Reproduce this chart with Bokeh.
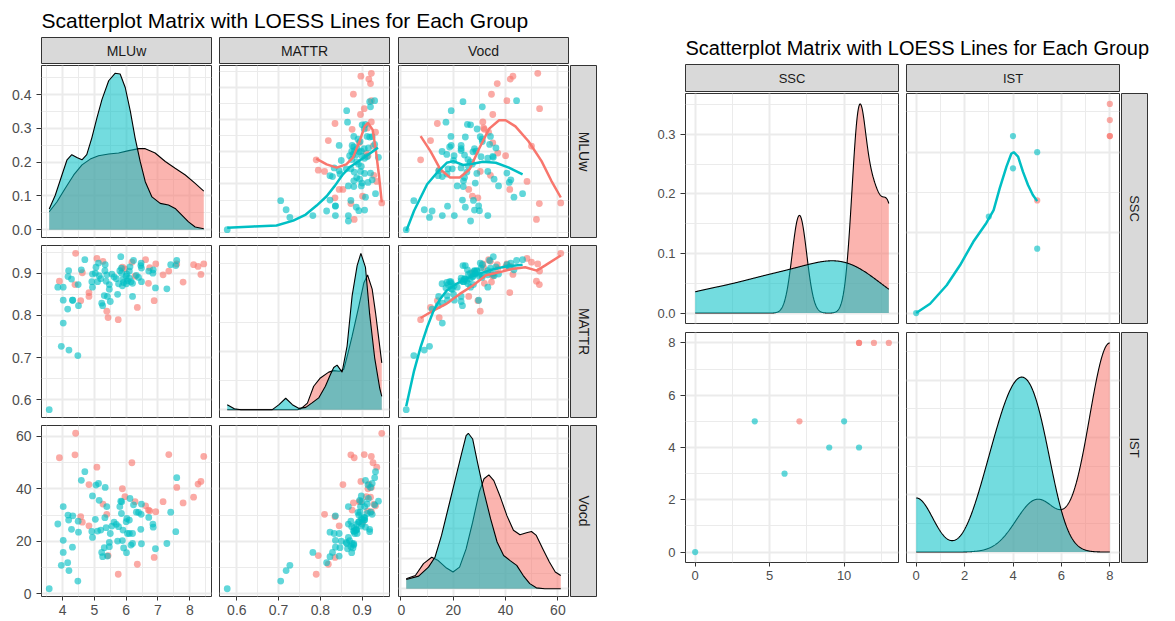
import numpy as np
from bokeh.plotting import figure
from bokeh.layouts import row, column
from bokeh.models import Spacer, FixedTicker, PrintfTickFormatter, Range1d
from bokeh.core.properties import value
from bokeh.embed import file_html
from bokeh.resources import INLINE

RED = "#F8766D"
TEAL = "#00BFC4"
FONT = "Liberation Sans"
TITLE = "Scatterplot Matrix with LOESS Lines for Each Group"

# ---------------- left matrix: MLUw / MATTR / Vocd ----------------
left_names = ["MLUw", "MATTR", "Vocd"]

red_mluw = [3.90, 4.39, 4.41, 4.57, 4.62, 4.83, 4.83, 5.08, 5.27, 5.39,
            5.43, 5.75, 5.88, 5.96, 6.18, 6.28, 6.35, 6.61, 6.70, 6.74,
            6.88, 6.93, 7.16, 7.34, 7.59, 7.79, 8.12, 8.26, 8.35, 8.44]
red_mattr = [0.881, 0.873, 0.947, 0.835, 0.901, 0.854, 0.845, 0.935, 0.928, 0.810,
             0.795, 0.790, 0.914, 0.910, 0.926, 0.893, 0.819, 0.932, 0.876, 0.913,
             0.835, 0.922, 0.896, 0.905, 0.922, 0.879, 0.920, 0.916, 0.897, 0.922]
red_vocd = [51.8, 52.9, 61.1, 29.4, 27.3, 41.6, 25.9, 48.2, 34.2, 30.3,
            14.6, 7.5, 40.0, 37.0, 49.9, 35.1, 11.3, 33.5, 31.9, 31.6,
            13.9, 31.3, 35.1, 53.0, 40.5, 34.6, 36.8, 41.8, 42.8, 52.3]

teal_mluw = [3.58, 3.85, 3.96, 4.02, 4.02, 4.02, 4.16, 4.20, 4.17, 4.19,
             4.28, 4.32, 4.31, 4.49, 4.50, 4.48, 4.59, 4.70, 4.94, 4.94,
             4.92, 5.03, 5.05, 5.13, 5.15, 5.10, 5.20, 5.23, 5.26, 5.31,
             5.33, 5.34, 5.39, 5.37, 5.41, 5.47, 5.47, 5.50, 5.55, 5.62,
             5.69, 5.73, 5.76, 5.80, 5.83, 5.85, 5.86, 5.90, 5.88, 5.92,
             6.00, 6.02, 6.01, 6.04, 6.10, 6.10, 6.12, 6.15, 6.20, 6.20,
             6.23, 6.32, 6.39, 6.47, 6.46, 6.48, 6.48, 6.71, 6.84, 6.85,
             6.92, 7.28, 7.40, 7.56, 7.59]
teal_mattr = [0.577, 0.867, 0.727, 0.782, 0.867, 0.836, 0.815, 0.718, 0.892, 0.906,
              0.886, 0.836, 0.836, 0.873, 0.823, 0.705, 0.908, 0.932, 0.898, 0.867,
              0.880, 0.900, 0.914, 0.924, 0.894, 0.880, 0.887, 0.829, 0.823, 0.847,
              0.906, 0.920, 0.896, 0.881, 0.845, 0.862, 0.873, 0.833, 0.898, 0.891,
              0.887, 0.850, 0.875, 0.906, 0.939, 0.912, 0.900, 0.885, 0.870, 0.878,
              0.893, 0.898, 0.875, 0.882, 0.888, 0.905, 0.915, 0.880, 0.845, 0.876,
              0.930, 0.895, 0.890, 0.924, 0.918, 0.880, 0.912, 0.905, 0.900, 0.908,
              0.865, 0.863, 0.920, 0.918, 0.930]
teal_vocd = [2.0, 26.6, 10.9, 15.8, 33.2, 20.4, 11.9, 8.9, 30.0, 28.1,
             24.6, 29.7, 17.8, 27.7, 23.5, 4.9, 43.2, 46.5, 37.3, 21.5,
             23.8, 28.4, 41.4, 42.0, 35.6, 23.9, 24.3, 15.8, 14.2, 17.6,
             29.0, 40.5, 33.2, 25.2, 14.4, 19.6, 18.0, 23.0, 25.8, 27.3,
             26.5, 20.1, 25.6, 33.2, 35.3, 30.6, 35.1, 24.3, 20.3, 17.5,
             27.5, 28.7, 15.7, 23.0, 23.0, 28.1, 36.3, 18.6, 23.0, 19.2,
             33.9, 31.1, 31.0, 30.3, 24.6, 19.1, 34.2, 29.1, 26.6, 25.4,
             17.2, 19.2, 31.1, 23.7, 44.2]

# density curves on the diagonal
mluw_dx_red = [3.58, 3.82, 4.08, 4.35, 4.61, 4.87, 5.13, 5.45, 5.76, 6.08,
               6.40, 6.60, 6.91, 7.23, 7.54, 7.86, 8.17, 8.44]
mluw_d_red = [0.053, 0.082, 0.122, 0.162, 0.192, 0.209, 0.219, 0.224, 0.227, 0.234,
              0.240, 0.240, 0.227, 0.202, 0.182, 0.162, 0.137, 0.114]
mluw_dx_teal = [3.58, 3.77, 3.98, 4.14, 4.29, 4.45, 4.61, 4.76, 4.92, 5.08,
                5.24, 5.45, 5.65, 5.81, 5.97, 6.13, 6.28, 6.44, 6.60, 6.81,
                7.07, 7.33, 7.54, 7.75, 7.96, 8.17, 8.44]
mluw_d_teal = [0.061, 0.102, 0.162, 0.207, 0.222, 0.214, 0.207, 0.222, 0.272, 0.331,
               0.386, 0.441, 0.463, 0.461, 0.421, 0.351, 0.272, 0.202, 0.142, 0.097,
               0.078, 0.073, 0.063, 0.043, 0.023, 0.008, 0.003]

mattr_dx_red = [0.577, 0.745, 0.753, 0.769, 0.784, 0.800, 0.820, 0.832, 0.845, 0.856,
                0.866, 0.876, 0.892, 0.904, 0.913, 0.924, 0.932, 0.940, 0.947]
mattr_d_red = [0.0, 0.0, 0.07, 0.56, 2.01, 2.72, 3.22, 3.35, 3.30, 3.45,
               4.83, 6.30, 8.85, 10.86, 11.55, 10.34, 8.33, 6.03, 4.02]
mattr_dx_teal = [0.577, 0.594, 0.610, 0.685, 0.701, 0.717, 0.733, 0.749, 0.765, 0.780,
                 0.796, 0.812, 0.824, 0.832, 0.840, 0.852, 0.864, 0.876, 0.888, 0.897,
                 0.908, 0.918, 0.930, 0.942, 0.947]
mattr_d_teal = [0.43, 0.08, 0.0, 0.0, 0.43, 0.98, 0.43, 0.11, 0.20, 0.58,
                1.01, 2.01, 3.02, 3.62, 3.82, 3.22, 5.46, 9.76, 12.35, 13.41,
                12.20, 8.19, 4.45, 1.86, 1.14]

vocd_dx_red = [2.0, 5.5, 8.6, 11.75, 14.25, 17.4, 19.9, 22.4, 24.9, 27.4,
               29.9, 31.75, 33.6, 35.5, 38.0, 40.5, 43.0, 45.5, 48.0, 49.9,
               51.75, 54.25, 56.75, 59.0, 61.1]
vocd_d_red = [0.0033, 0.0044, 0.0084, 0.0105, 0.0094, 0.0069, 0.0056, 0.0072, 0.0133, 0.0222,
              0.0322, 0.0367, 0.0380, 0.0361, 0.0306, 0.0244, 0.0195, 0.0180, 0.0187, 0.0191,
              0.0178, 0.0133, 0.0089, 0.0056, 0.0044]
vocd_dx_teal = [2.0, 6.75, 10.5, 13.0, 15.5, 18.0, 20.5, 23.0, 24.9, 25.75,
                27.4, 29.25, 31.75, 34.25, 36.75, 39.25, 41.75, 44.25, 46.75, 49.25,
                51.75, 55.0, 61.1]
vocd_d_teal = [0.0031, 0.0042, 0.0072, 0.0105, 0.0178, 0.0267, 0.0356, 0.0445, 0.0511, 0.0519,
               0.0500, 0.0422, 0.0322, 0.0234, 0.0156, 0.0111, 0.0094, 0.0078, 0.0044, 0.0017,
               0.0003, 0.0, 0.0]

# LOESS fits in the upper panels
lo_mattr_mluw_teal_x = [0.577, 0.640, 0.695, 0.735, 0.765, 0.791, 0.815, 0.835, 0.854, 0.870, 0.886, 0.910, 0.938]
lo_mattr_mluw_teal_y = [3.64, 3.68, 3.71, 3.86, 4.05, 4.33, 4.62, 4.95, 5.30, 5.52, 5.66, 5.87, 6.13]
lo_mattr_mluw_red_x = [0.790, 0.815, 0.839, 0.862, 0.878, 0.894, 0.906, 0.914, 0.925, 0.932, 0.940, 0.947]
lo_mattr_mluw_red_y = [5.79, 5.61, 5.51, 5.61, 5.82, 6.33, 6.79, 6.90, 6.69, 6.13, 5.30, 4.43]

lo_vocd_mluw_teal_x = [2.0, 5.0, 10.0, 13.75, 17.5, 20.0, 23.75, 27.5, 31.25, 36.25, 41.25, 46.5]
lo_vocd_mluw_teal_y = [3.54, 4.17, 4.99, 5.35, 5.66, 5.71, 5.59, 5.63, 5.69, 5.66, 5.51, 5.30]
lo_vocd_mluw_red_x = [7.5, 11.25, 15.0, 18.75, 22.5, 26.25, 30.0, 33.75, 37.5, 40.0, 43.75, 48.75, 53.75, 57.5, 61.1]
lo_vocd_mluw_red_y = [6.49, 6.02, 5.46, 5.20, 5.20, 5.46, 6.12, 6.72, 6.98, 6.98, 6.79, 6.33, 5.71, 5.10, 4.58]

lo_vocd_mattr_teal_x = [2.0, 5.0, 7.5, 10.0, 12.5, 15.0, 17.5, 21.25, 25.0, 30.0, 35.0, 40.0, 46.5]
lo_vocd_mattr_teal_y = [0.585, 0.669, 0.725, 0.772, 0.812, 0.839, 0.859, 0.875, 0.887, 0.899, 0.909, 0.916, 0.920]
lo_vocd_mattr_red_x = [7.5, 12.5, 17.5, 22.5, 27.5, 32.5, 37.5, 42.5, 47.5, 51.9, 55.0, 61.1]
lo_vocd_mattr_red_y = [0.794, 0.812, 0.828, 0.851, 0.871, 0.895, 0.902, 0.910, 0.914, 0.906, 0.918, 0.942]

# tick marks
mluw_ticks, mluw_minor = [4, 5, 6, 7, 8], [3.5, 4.5, 5.5, 6.5, 7.5, 8.5]
mattr_ticks, mattr_minor = [0.6, 0.7, 0.8, 0.9], [0.65, 0.75, 0.85, 0.95]
vocd_ticks, vocd_minor = [0, 20, 40, 60], [10, 30, 50]
mluw_dens_ticks, mluw_dens_minor = [0, 0.1, 0.2, 0.3, 0.4], [0.05, 0.15, 0.25, 0.35, 0.45]
mattr_dens_ticks, mattr_dens_minor = [0, 5, 10], [2.5, 7.5, 12.5]
vocd_dens_ticks, vocd_dens_minor = [0, 0.01, 0.02, 0.03, 0.04, 0.05], [0.005, 0.015, 0.025, 0.035, 0.045]

# ---------------- right matrix: SSC / IST ----------------
right_names = ["SSC", "IST"]
red_ssc = [7, 11, 11, 12, 13]
red_ist = [5, 8, 8, 8, 8]
teal_ssc = [0, 4, 6, 9, 10, 11]
teal_ist = [0, 5, 3, 4, 5, 4]

lo_ist_ssc_teal_x = [0.0, 0.575, 1.26, 1.81, 2.36, 2.90, 3.20, 3.45, 3.73, 3.93, 4.03, 4.21, 4.41, 4.62, 4.82, 5.0]
lo_ist_ssc_teal_y = [0.0, 0.58, 1.73, 2.97, 4.43, 5.60, 6.40, 7.75, 9.10, 9.90, 10.0, 9.73, 8.79, 7.96, 7.34, 6.96]

ssc_ticks, ssc_minor = [0, 5, 10], [2.5, 7.5, 12.5]
ist_ticks, ist_minor = [0, 2, 4, 6, 8], [1, 3, 5, 7]
dens_ticks, dens_minor = [0, 0.1, 0.2, 0.3], [0.05, 0.15, 0.25, 0.35]


def kde(vals, lo, hi, n=512):
    """Gaussian kernel density with the nrd0 bandwidth rule."""
    x = np.asarray(vals, float)
    sd = x.std(ddof=1)
    q75, q25 = np.percentile(x, [75, 25])
    s = min(sd, (q75 - q25) / 1.34)
    if s == 0:
        s = sd or abs(x[0]) or 1.0
    bw = 0.9 * s * len(x) ** -0.2
    g = np.linspace(lo, hi, n)
    d = np.exp(-0.5 * ((g[:, None] - x[None, :]) / bw) ** 2).sum(1) / (len(x) * bw * np.sqrt(2 * np.pi))
    return g, d


def padded(values):
    v = np.asarray(values, float)
    lo, hi = float(v.min()), float(v.max())
    d = 0.05 * (hi - lo)
    return (lo - d, hi + d)


def base_fig(w, h, borders, xr, yr):
    l, r, t, b = borders
    p = figure(width=w, height=h, x_range=Range1d(*xr), y_range=Range1d(*yr),
               toolbar_location=None, output_backend="svg",
               min_border_left=l, min_border_right=r, min_border_top=t, min_border_bottom=b)
    p.background_fill_color = "white"
    p.border_fill_color = "white"
    p.outline_line_color = "#333333"
    p.outline_line_width = 1
    return p


def style_axes(p, xt, yt, show_x, show_y, fs):
    p.xaxis.ticker = FixedTicker(ticks=xt[0], minor_ticks=xt[1])
    p.yaxis.ticker = FixedTicker(ticks=yt[0], minor_ticks=yt[1])
    p.xaxis.formatter = PrintfTickFormatter(format=xt[2])
    p.yaxis.formatter = PrintfTickFormatter(format=yt[2])
    for ax in (p.xaxis, p.yaxis):
        ax.axis_line_color = None
        ax.major_tick_line_color = "#333333"
        ax.major_tick_in = 0
        ax.major_tick_out = 4
        ax.minor_tick_line_color = None
        ax.major_label_text_font = FONT
        ax.major_label_text_font_size = fs
        ax.major_label_text_color = "#4D4D4D"
    p.xaxis.major_label_standoff = 4
    p.yaxis.major_label_standoff = 5
    p.yaxis.major_tick_out = 5
    p.xaxis.visible = show_x
    p.yaxis.visible = show_y
    p.grid.grid_line_color = "#EBEBEB"
    p.grid.grid_line_width = 2
    p.grid.minor_grid_line_color = "#EBEBEB"
    p.grid.minor_grid_line_width = 1


def strip(w, h, borders, label, fs, vertical=False):
    l, r, t, b = borders
    p = figure(width=w, height=h, x_range=Range1d(0, 1), y_range=Range1d(0, 1),
               toolbar_location=None, output_backend="svg",
               min_border_left=l, min_border_right=r, min_border_top=t, min_border_bottom=b)
    p.xaxis.visible = False
    p.yaxis.visible = False
    p.grid.visible = False
    p.background_fill_color = "#D9D9D9"
    p.border_fill_color = "white"
    p.outline_line_color = "#333333"
    p.outline_line_width = 1
    p.text(x=[0.5], y=[0.5], text=[label], angle=-np.pi / 2 if vertical else 0.0,
           text_align="center", text_baseline="middle", text_font=value(FONT),
           text_font_size=fs, text_color="#1A1A1A")
    return p


def title_fig(w, h, x, base, fs):
    p = figure(width=w, height=h, x_range=Range1d(0, w), y_range=Range1d(0, h),
               toolbar_location=None, output_backend="svg",
               min_border_left=0, min_border_right=0, min_border_top=0, min_border_bottom=0)
    p.xaxis.visible = False
    p.yaxis.visible = False
    p.grid.visible = False
    p.outline_line_color = None
    p.background_fill_color = "white"
    p.border_fill_color = "white"
    p.text(x=[x], y=[h - base], text=[TITLE], text_font=value(FONT), text_font_size=fs,
           text_color="black", text_align="left", text_baseline="alphabetic")
    return p


def matrix(red, teal, ticks, dens, dens_ticks, smooth, cols, rows, fs, size):
    n = len(red)
    ranges = [padded(list(red[k]) + list(teal[k])) for k in range(n)]
    out = []
    for i in range(n):
        figs = []
        h, t, b = rows[i]
        for j in range(n):
            w, l, r = cols[j]
            if i == j:
                dx_r, dy_r, dx_t, dy_t = dens[i]
                m = max(max(dy_r), max(dy_t))
                p = base_fig(w, h, (l, r, t, b), ranges[j], (-0.05 * m, 1.05 * m))
                p.varea(x=dx_r, y1=0, y2=dy_r, fill_color=RED, fill_alpha=0.55)
                p.line(dx_r, dy_r, line_color="black", line_width=1.1)
                p.varea(x=dx_t, y1=0, y2=dy_t, fill_color=TEAL, fill_alpha=0.55)
                p.line(dx_t, dy_t, line_color="black", line_width=1.1)
                yt = dens_ticks[i]
            else:
                p = base_fig(w, h, (l, r, t, b), ranges[j], ranges[i])
                p.scatter(red[j], red[i], size=size, fill_color=RED, fill_alpha=0.62, line_color=None)
                p.scatter(teal[j], teal[i], size=size, fill_color=TEAL, fill_alpha=0.62, line_color=None)
                for sx, sy, col in smooth.get((i, j), []):
                    p.line(sx, sy, line_color=col, line_width=2.5)
                yt = ticks[i]
            style_axes(p, ticks[j], yt, i == n - 1, j == 0, fs)
            figs.append(p)
        out.append(figs)
    return out


# ---------------- left block ----------------
L_COLS = [(218, 41, 7), (179, 1, 8), (172, 1, 1)]
L_ROWS = [(180, 1, 7), (180, 1, 7), (197, 1, 25)]
L_FS = "14px"

left_figs = matrix(
    [red_mluw, red_mattr, red_vocd],
    [teal_mluw, teal_mattr, teal_vocd],
    [(mluw_ticks, mluw_minor, "%d"), (mattr_ticks, mattr_minor, "%.1f"), (vocd_ticks, vocd_minor, "%d")],
    [(mluw_dx_red, mluw_d_red, mluw_dx_teal, mluw_d_teal),
     (mattr_dx_red, mattr_d_red, mattr_dx_teal, mattr_d_teal),
     (vocd_dx_red, vocd_d_red, vocd_dx_teal, vocd_d_teal)],
    [(mluw_dens_ticks, mluw_dens_minor, "%.1f"),
     (mattr_dens_ticks, mattr_dens_minor, "%d"),
     (vocd_dens_ticks, vocd_dens_minor, "%.2f")],
    {(0, 1): [(lo_mattr_mluw_red_x, lo_mattr_mluw_red_y, RED),
              (lo_mattr_mluw_teal_x, lo_mattr_mluw_teal_y, TEAL)],
     (0, 2): [(lo_vocd_mluw_red_x, lo_vocd_mluw_red_y, RED),
              (lo_vocd_mluw_teal_x, lo_vocd_mluw_teal_y, TEAL)],
     (1, 2): [(lo_vocd_mattr_red_x, lo_vocd_mattr_red_y, RED),
              (lo_vocd_mattr_teal_x, lo_vocd_mattr_teal_y, TEAL)]},
    L_COLS, L_ROWS, L_FS, 6.8)

left_rows = [title_fig(600, 36, 41, 20, "21px")]
left_rows.append(row(*[strip(w, 28, (l, r, 1, 1), nm, L_FS) for (w, l, r), nm in zip(L_COLS, left_names)],
                     Spacer(width=31, height=28)))
for i, (h, t, b) in enumerate(L_ROWS):
    left_rows.append(row(*left_figs[i], strip(28, h, (1, 1, t, b), left_names[i], L_FS, vertical=True),
                         Spacer(width=3, height=h)))
left_block = column(*left_rows)

# ---------------- right block ----------------
R_COLS = [(305, 85, 7), (215, 1, 1)]
R_ROWS = [(239, 1, 8), (290, 1, 59)]
R_FS = "13px"

ssc_all = red_ssc + teal_ssc
ist_all = red_ist + teal_ist
ssc_g_r, ssc_d_r = kde(red_ssc, min(ssc_all), max(ssc_all))
ssc_g_t, ssc_d_t = kde(teal_ssc, min(ssc_all), max(ssc_all))
ist_g_r, ist_d_r = kde(red_ist, min(ist_all), max(ist_all))
ist_g_t, ist_d_t = kde(teal_ist, min(ist_all), max(ist_all))

right_figs = matrix(
    [red_ssc, red_ist],
    [teal_ssc, teal_ist],
    [(ssc_ticks, ssc_minor, "%d"), (ist_ticks, ist_minor, "%d")],
    [(ssc_g_r, ssc_d_r, ssc_g_t, ssc_d_t), (ist_g_r, ist_d_r, ist_g_t, ist_d_t)],
    [(dens_ticks, dens_minor, "%.1f"), (dens_ticks, dens_minor, "%.1f")],
    {(0, 1): [(lo_ist_ssc_teal_x, lo_ist_ssc_teal_y, TEAL)]},
    R_COLS, R_ROWS, R_FS, 6.2)

right_rows = [title_fig(575, 63, 85, 47, "20px")]
right_rows.append(row(*[strip(w, 29, (l, r, 1, 1), nm, R_FS) for (w, l, r), nm in zip(R_COLS, right_names)],
                      Spacer(width=55, height=29)))
for i, (h, t, b) in enumerate(R_ROWS):
    right_rows.append(row(*right_figs[i], strip(28, h, (1, 1, t, b), right_names[i], R_FS, vertical=True),
                          Spacer(width=27, height=h)))
right_block = column(*right_rows)

page = row(left_block, right_block)

with open("out.html", "w") as f:
    f.write(file_html(page, INLINE))
